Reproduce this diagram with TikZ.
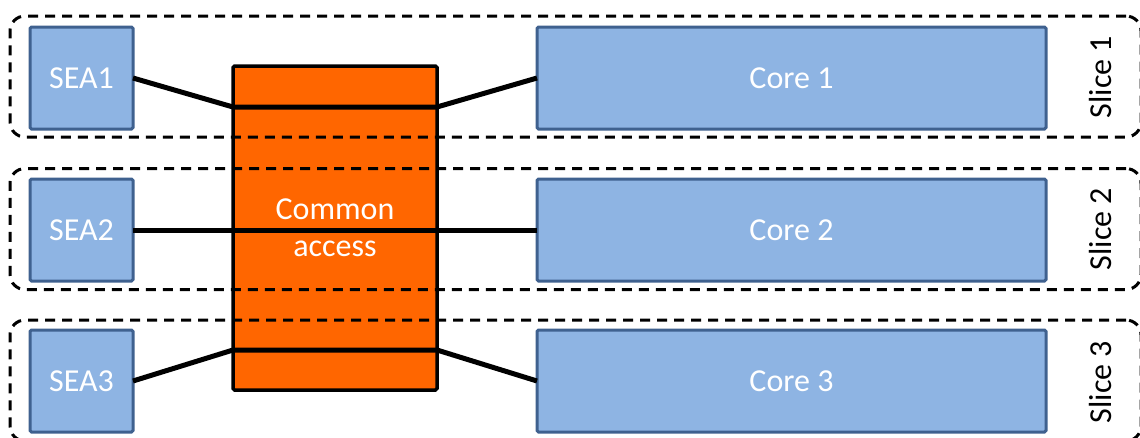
\documentclass[tikz,border=0pt]{standalone}
\usepackage{fontspec}
\setmainfont{Carlito}
\definecolor{boxfill}{HTML}{8EB4E3}
\definecolor{boxline}{HTML}{3F618F}
\definecolor{accessfill}{HTML}{FF6600}
\begin{document}
\begin{tikzpicture}[x=1pt,y=-1pt,
  every node/.style={font=\fontsize{32}{37}\selectfont, inner sep=0pt, outer sep=0pt},
  unit/.style={draw=boxline, fill=boxfill, line width=3pt, rounded corners=1.5pt,
    text=white, minimum height=102pt},
  sea/.style={unit, minimum width=103pt},
  core/.style={unit, minimum width=509pt},
  access/.style={draw=black, fill=accessfill, line width=3.5pt, rounded corners=1.5pt,
    text=white, align=center, minimum width=204pt, minimum height=324pt},
  slice/.style={draw=black, line width=3pt, dash pattern=on 10pt off 7pt,
    rounded corners=15pt, minimum width=1131pt, minimum height=121pt},
  slicelabel/.style={rotate=90, text=black},
  link/.style={draw=black, line width=5pt}]
\useasboundingbox (0,0) rectangle (1140,437);

% shared access block
\node[access] (acc) at (335,228) {Common\\access};

% slice contents
\node[sea] (sea1) at (81.5,78) {SEA1};
\node[sea] (sea2) at (81.5,230) {SEA2};
\node[sea] (sea3) at (81.5,381) {SEA3};
\node[core] (core1) at (791.5,78) {Core 1};
\node[core] (core2) at (791.5,230) {Core 2};
\node[core] (core3) at (791.5,381) {Core 3};

% slice outlines
\node[slice] (s1) at (575.5,76.5) {};
\node[slice] (s2) at (575.5,229) {};
\node[slice] (s3) at (575.5,380.5) {};
\node[slicelabel] (l1) at (1100,77) {Slice 1};
\node[slicelabel] (l2) at (1100,229) {Slice 2};
\node[slicelabel] (l3) at (1100,382) {Slice 3};

% links through the access block
\coordinate (a1) at (acc.west |- 0,107);
\coordinate (b1) at (acc.east |- 0,107);
\coordinate (a3) at (acc.west |- 0,350);
\coordinate (b3) at (acc.east |- 0,350);
\draw[link] (sea1.east) -- (a1) -- (b1) -- (core1.west);
\draw[link] (sea2.east) -- (core2.west);
\draw[link] (sea3.east) -- (a3) -- (b3) -- (core3.west);
\end{tikzpicture}
\end{document}
